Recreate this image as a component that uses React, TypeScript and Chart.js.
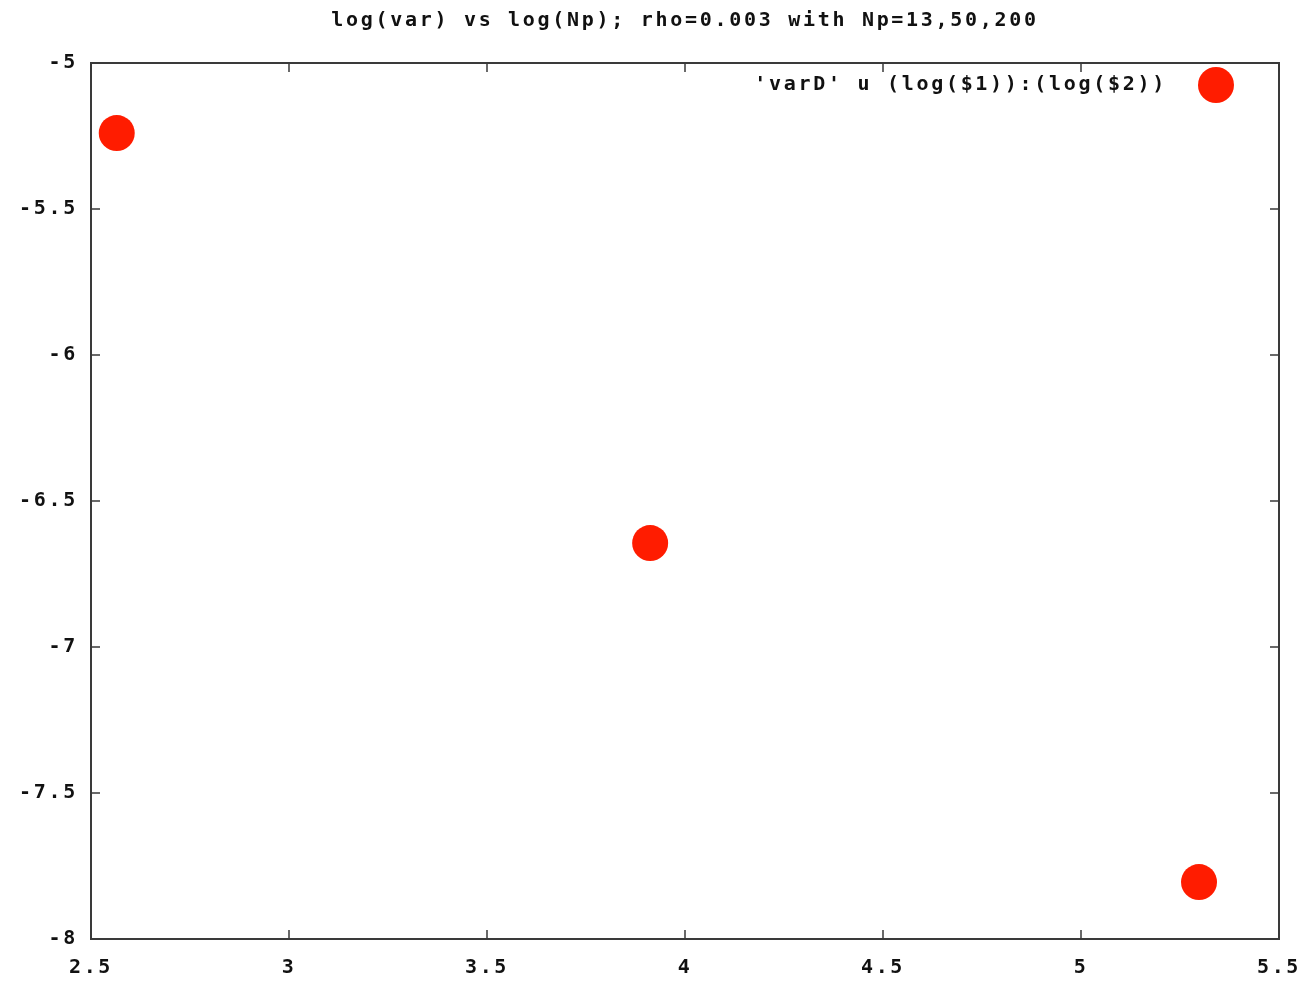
import React, { useEffect, useRef } from "react";
import { Chart, registerables } from "chart.js";

Chart.register(...registerables);

const titleText = "log(var) vs log(Np); rho=0.003 with Np=13,50,200";
const legendLabel = "'varD' u (log($1)):(log($2))";
const xValues = [2.565, 3.912, 5.298];
const yValues = [-5.24, -6.644, -7.805];
const xTickValues = [2.5, 3, 3.5, 4, 4.5, 5, 5.5];
const yTickValues = [-8, -7.5, -7, -6.5, -6, -5.5, -5];

const FONT = "'DejaVu Sans Mono', monospace";
const RED = "rgb(255,28,0)";
const SPACING = "2.7px";

const gnuplotFrame = {
  id: "gnuplotFrame",
  beforeUpdate(chart: any) {
    chart.ctx.letterSpacing = SPACING;
  },
  beforeDraw(chart: any) {
    chart.ctx.letterSpacing = SPACING;
  },
  afterDraw(chart: any) {
    const { ctx, chartArea } = chart;
    const xs = chart.scales.x;
    const ys = chart.scales.y;
    const { left, right, top, bottom } = chartArea;
    ctx.save();
    ctx.strokeStyle = "#3a3a3a";
    ctx.lineWidth = 2;
    ctx.strokeRect(left, top, right - left, bottom - top);
    ctx.lineWidth = 1.5;
    const tl = 9;
    ctx.beginPath();
    xTickValues.forEach((v) => {
      const px = xs.getPixelForValue(v);
      ctx.moveTo(px, bottom);
      ctx.lineTo(px, bottom - tl);
      ctx.moveTo(px, top);
      ctx.lineTo(px, top + tl);
    });
    yTickValues.forEach((v) => {
      const py = ys.getPixelForValue(v);
      ctx.moveTo(left, py);
      ctx.lineTo(left + tl, py);
      ctx.moveTo(right, py);
      ctx.lineTo(right - tl, py);
    });
    ctx.stroke();

    // key
    const ky = top + 22;
    ctx.letterSpacing = "2.7px";
    ctx.font = "bold 20px " + FONT;
    ctx.fillStyle = "#111";
    ctx.textAlign = "right";
    ctx.textBaseline = "middle";
    ctx.fillText(legendLabel, right - 112, ky);
    ctx.beginPath();
    ctx.fillStyle = RED;
    ctx.arc(right - 63, ky, 18, 0, Math.PI * 2);
    ctx.fill();
    ctx.restore();
  },
};

export default function App() {
  const ref = useRef<HTMLCanvasElement | null>(null);
  useEffect(() => {
    document.body.style.margin = "0";
    const canvas = ref.current!;
    const chart = new Chart(canvas, {
      type: "scatter",
      data: {
        datasets: [
          {
            label: legendLabel,
            data: xValues.map((x, i) => ({ x, y: yValues[i] })),
            backgroundColor: RED,
            borderColor: RED,
            borderWidth: 0,
            pointRadius: 18,
            pointHoverRadius: 18,
            showLine: false,
          },
        ],
      },
      options: {
        responsive: false,
        animation: false,
        devicePixelRatio: 1,
        layout: { padding: { left: 0, right: 34, top: 0, bottom: 0 } },
        plugins: {
          legend: { display: false },
          tooltip: { enabled: false },
          title: {
            display: true,
            text: titleText,
            fullSize: false,
            color: "#111",
            font: { family: FONT, size: 20, weight: "bold", lineHeight: "24px" },
            padding: { top: 9, bottom: 30 },
          },
        },
        scales: {
          x: {
            type: "linear",
            min: 2.5,
            max: 5.5,
            afterBuildTicks: (s: any) => {
              s.ticks = xTickValues.map((v) => ({ value: v }));
            },
            afterFit: (s: any) => {
              s.height = 45;
              s.paddingLeft = 0;
              s.paddingRight = 0;
            },
            grid: { display: false, drawTicks: false },
            border: { display: false },
            ticks: {
              color: "#111",
              padding: 17,
              maxRotation: 0,
              autoSkip: false,
              font: { family: FONT, size: 20, weight: "bold" },
              callback: (v: any) => String(v),
            },
          },
          y: {
            type: "linear",
            min: -8,
            max: -5,
            afterBuildTicks: (s: any) => {
              s.ticks = yTickValues.map((v) => ({ value: v }));
            },
            afterFit: (s: any) => {
              s.width = 91;
              s.paddingTop = 0;
              s.paddingBottom = 0;
            },
            grid: { display: false, drawTicks: false },
            border: { display: false },
            ticks: {
              color: "#111",
              padding: 13,
              autoSkip: false,
              font: { family: FONT, size: 20, weight: "bold" },
              callback: (v: any) => String(v),
            },
          },
        },
      },
      plugins: [gnuplotFrame],
    });
    return () => chart.destroy();
  }, []);
  return <canvas ref={ref} width={1313} height={984} style={{ display: "block" }} />;
}
